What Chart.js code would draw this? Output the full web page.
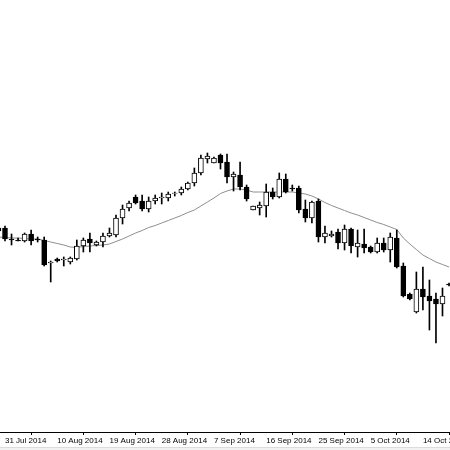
<!DOCTYPE html>
<html>
<head>
<meta charset="utf-8">
<script src="https://cdn.jsdelivr.net/npm/chart.js@4.4.1/dist/chart.umd.min.js"></script>
<style>
  html, body { margin: 0; padding: 0; background: #fff; }
  #wrap { width: 450px; height: 450px; }
</style>
</head>
<body>
<div id="wrap"><canvas id="chart" width="450" height="450"></canvas></div>
<script>
// one label every 8 bars (bar 0 = 31 Jul 2014)
const tickLabels = ['31 Jul 2014', '10 Aug 2014', '19 Aug 2014', '28 Aug 2014', '7 Sep 2014',
                    '16 Sep 2014', '25 Sep 2014', '5 Oct 2014', '14 Oct 2014'];
const barsPerTick = 8;
const firstBar = -1;

// daily candles, price (arbitrary units, no price scale shown)
const open  = [204, 204, 193, 192, 191, 198, 193, 192, 169, 173, 172, 170, 173, 186, 193, 187, 190, 196, 197, 214,
               224, 235, 231, 223, 231, 234, 234, 238.5, 239, 243, 249, 259, 273, 269, 277, 270, 255, 257, 245, 222,
               224, 226, 240, 235, 253, 244, 244, 223, 214, 231, 195, 196, 200, 189, 203, 185, 188, 185, 180, 189,
               182, 194, 166, 138, 120, 143, 136, 133, 128, 148];
const high  = [205, 206, 198, 194, 199, 202, 195, 195, 171, 174, 175, 175, 192, 194, 199, 191, 199, 204, 217, 227,
               231, 237, 237, 235, 237, 239, 240, 240, 245, 250, 264, 277, 279, 275, 278, 278, 260, 270, 247, 226,
               230, 248, 244, 259, 258, 247, 246, 232, 231, 233, 206, 201, 203, 207, 204, 202, 203, 186, 194, 194,
               199, 202, 169, 139, 160, 165, 152, 139, 144, 149];
const low   = [199, 191, 187, 191, 190, 187, 190, 166, 150, 170, 166, 168, 172, 180, 180, 186, 185, 195, 195, 208,
               221, 228, 221, 220, 228, 228, 231, 236, 237, 242, 246, 257, 269, 269, 263, 249, 241, 242, 231, 222,
               217, 215, 233, 234, 239, 241, 219, 210, 209, 190, 189, 195, 183, 182, 179, 175, 179, 179, 179, 180,
               170, 164, 135, 132, 119, 122, 102, 89, 116, 146];
const close = [201, 193, 192, 191, 198, 191, 192, 167, 170, 171, 173, 174, 186, 192, 189, 190, 196, 199, 214, 223,
               229, 229, 223, 231, 234, 235, 238, 239, 243, 249, 259, 274, 276, 274, 269, 255, 258, 245, 233, 226,
               227, 240, 235, 253, 240, 243, 222, 214, 230, 195, 199, 198, 189, 203, 186, 189, 184, 180, 189, 182,
               195, 165, 136, 133, 143, 135, 131, 128, 136, 147];
// moving average line
const ma    = [195, 194.5, 194, 194, 193.5, 193, 193, 191.5, 190, 188.5, 187, 185, 184.5, 185.5, 186, 186.5, 187, 188, 190.5, 193,
               196, 199, 201.5, 204.5, 206.5, 209, 211.5, 214, 216.5, 219.5, 222, 226, 230, 234, 238.5, 241, 243, 243, 242, 240,
               240, 240, 240, 240, 240, 240, 239, 238, 236, 233, 229.5, 226.5, 224, 221.5, 219, 217, 214.5, 212, 209.5, 207.5,
               205, 202.5, 194, 188, 182.5, 177, 173.5, 170, 167.5, 165];

const wicks = open.map((o, i) => ({ x: firstBar + i, y: [low[i], high[i]] }));
const bodies = open.map((o, i) => ({ x: firstBar + i, y: [o, close[i]] }));
const bodyColors = open.map((o, i) => close[i] >= o ? '#ffffff' : '#000000');
const maPoints = ma.map((v, i) => ({ x: firstBar + i, y: v }));

// faint strip under the time axis
const bottomStrip = {
    id: 'bottomStrip',
    afterDraw(chart) {
        const ctx = chart.ctx;
        ctx.save();
        ctx.fillStyle = '#f2f2f2';
        ctx.fillRect(0, chart.height - 3, chart.width, 3);
        ctx.fillStyle = '#dcdcdc';
        ctx.fillRect(0, chart.height - 3, chart.width, 1);
        ctx.restore();
    }
};

new Chart(document.getElementById('chart'), {
    type: 'bar',
    data: {
        datasets: [{
            type: 'line',
            data: maPoints,
            borderColor: '#8e8e8e',
            borderWidth: 1,
            pointRadius: 0,
            tension: 0,
            order: 3
        }, {
            data: wicks,
            backgroundColor: '#000000',
            borderWidth: 0,
            barThickness: 1,
            grouped: false,
            order: 2
        }, {
            data: bodies,
            backgroundColor: bodyColors,
            borderColor: '#000000',
            borderWidth: 1,
            borderSkipped: false,
            barThickness: 5,
            grouped: false,
            order: 1
        }]
    },
    options: {
        responsive: false,
        animation: false,
        layout: { padding: 0 },
        plugins: { legend: { display: false }, tooltip: { enabled: false } },
        scales: {
            x: {
                type: 'linear',
                min: -0.766,
                max: 68.15,
                offset: false,
                afterBuildTicks: s => { s.ticks = tickLabels.map((t, k) => ({ value: k * barsPerTick })); },
                afterFit: s => { s.height = 18; s.paddingLeft = 0; s.paddingRight = 0; },
                grid: { drawOnChartArea: false, drawTicks: true, tickLength: 3, color: '#000' },
                border: { display: true, color: '#000', width: 1 },
                ticks: {
                    autoSkip: false,
                    maxRotation: 0,
                    align: 'start',
                    padding: 1,
                    color: '#000',
                    font: { family: 'Liberation Sans', size: 8 },
                    callback: v => tickLabels[Math.round(v / barsPerTick)] || ''
                }
            },
            y: {
                display: false,
                min: 0,
                max: 432
            }
        }
    },
    plugins: [bottomStrip]
});
</script>
</body>
</html>
